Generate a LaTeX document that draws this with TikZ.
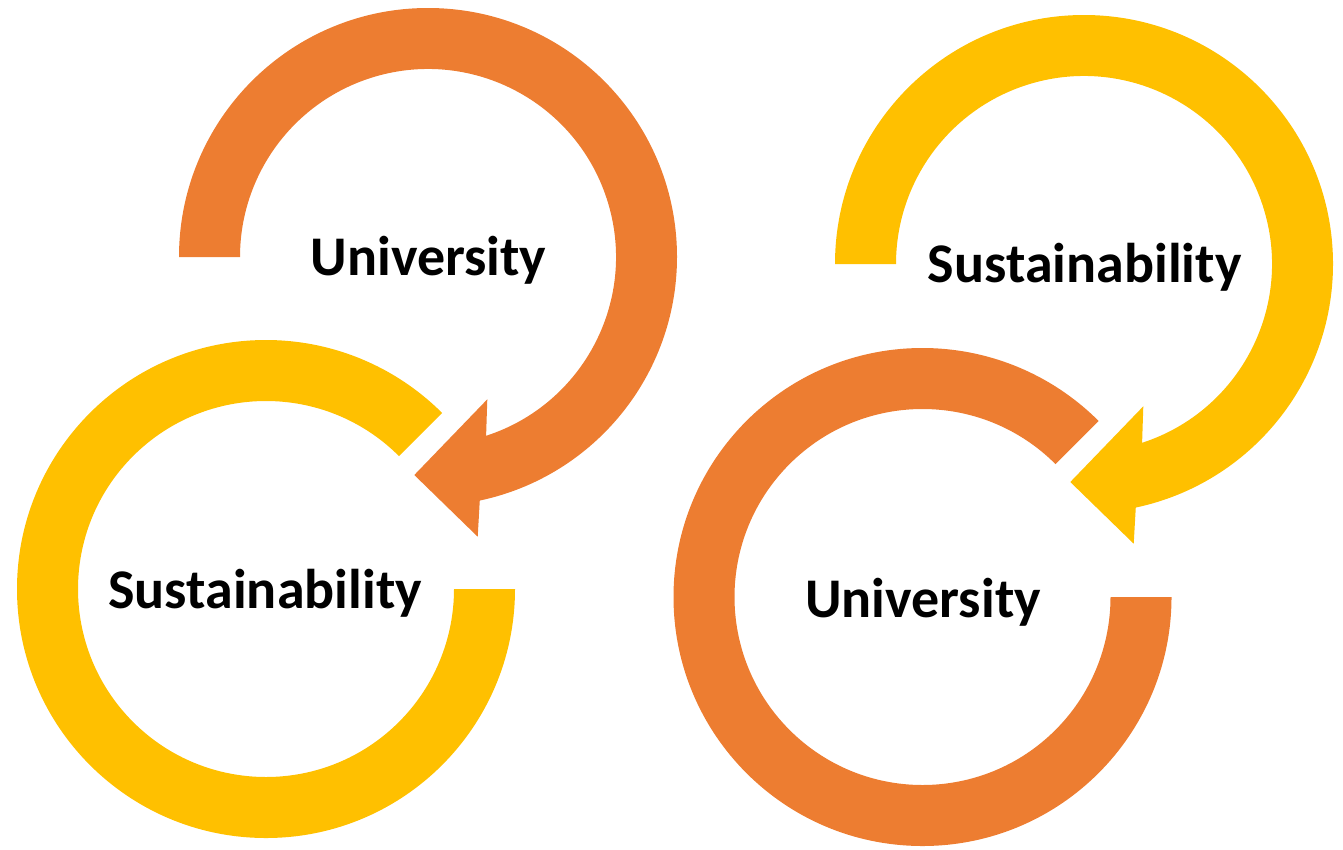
\documentclass[tikz,border=0pt]{standalone}
\usepackage{fontspec}
\setmainfont{Carlito}
\definecolor{ringorange}{HTML}{ED7D31}
\definecolor{ringyellow}{HTML}{FFC000}
\tikzset{
  ringtext/.style={anchor=base, inner sep=0pt, font=\fontsize{56}{60}\selectfont\bfseries, text=black}
}
\newcommand\ArrowRing[2]{%
  \fill[#1, shift={#2}] (180:249) arc[start angle=180,end angle=438,radius=249]
    -- (49.7,279.7) -- (-13.7,218) -- (59.3,142.3) -- (432:188)
    arc[start angle=432,end angle=180,radius=188] -- cycle;
}
\newcommand\OpenRing[2]{%
  \fill[#1, shift={#2}] (0:249) arc[start angle=0,end angle=315,radius=249]
    -- (315:188) arc[start angle=315,end angle=0,radius=188] -- cycle;
}
\begin{document}
\begin{tikzpicture}[x=1pt,y=1pt,yscale=-1]
\useasboundingbox (0,0) rectangle (1343,849);
\ArrowRing{ringorange}{(428,257)}
\OpenRing{ringyellow}{(266,589)}
\ArrowRing{ringyellow}{(1084,264)}
\OpenRing{ringorange}{(922.5,597)}
\node[ringtext] (uni1) at (428.5,275) {University};
\node[ringtext] (sus1) at (265,608) {Sustainability};
\node[ringtext] (sus2) at (1084.5,282) {Sustainability};
\node[ringtext] (uni2) at (923,617) {University};
\end{tikzpicture}
\end{document}
